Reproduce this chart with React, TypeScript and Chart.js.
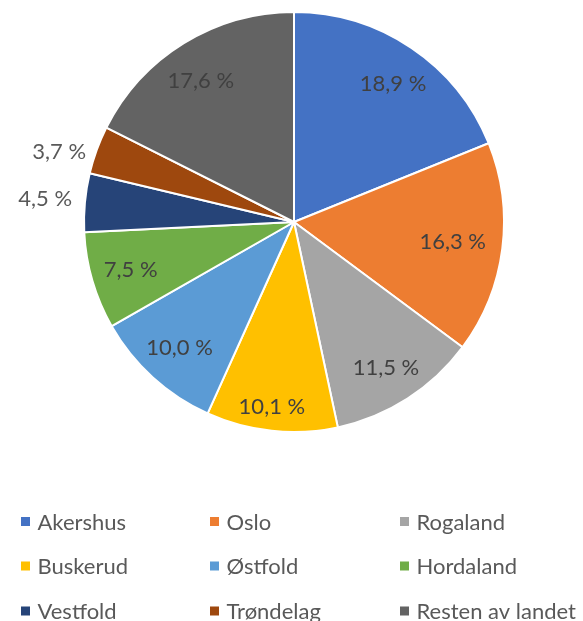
import React, { useEffect, useRef } from "react";
import { Chart, registerables } from "chart.js";

Chart.register(...registerables);

const categories = ["Akershus", "Oslo", "Rogaland", "Buskerud", "Østfold", "Hordaland", "Vestfold", "Trøndelag", "Resten av landet"];
const values = [18.9, 16.3, 11.5, 10.1, 10.0, 7.5, 4.5, 3.7, 17.6];
const colors = ["#4472C4", "#ED7D31", "#A5A5A5", "#FFC000", "#5B9BD5", "#70AD47", "#264478", "#9E480E", "#636363"];

const FONT = "Lato, 'Open Sans', sans-serif";

const fmt = (v: number) => v.toFixed(1).replace(".", ",") + " %";

// small label nudges (style only), emulating the best-fit placement
const labelNudge: Record<number, [number, number]> = {
  0: [4, 3],
  1: [-10, -2],
  2: [0, 3],
  3: [-4, 16],
  7: [0, 16],
  8: [-4, 4],
};

const labelPlugin = {
  id: "customLabels",
  afterDraw(chart: any) {
    const ctx = chart.ctx;
    const meta = chart.getDatasetMeta(0);
    ctx.save();
    ctx.textAlign = "center";
    ctx.textBaseline = "middle";
    ctx.font = `22px ${FONT}`;
    meta.data.forEach((arc: any, i: number) => {
      const mid = (arc.startAngle + arc.endAngle) / 2;
      const R = arc.outerRadius;
      const small = values[i] < 5;
      const r = small ? R * 1.19 : R * 0.81;
      const n = labelNudge[i] || [0, 0];
      const x = arc.x + Math.cos(mid) * r + n[0];
      const y = arc.y + Math.sin(mid) * r + n[1];
      ctx.fillStyle = small ? "#595959" : "#404040";
      ctx.fillText(fmt(values[i]), x, y);
    });
    // legend
    ctx.textAlign = "left";
    ctx.font = `22px ${FONT}`;
    const colX = [21, 210, 400];
    const rowY = [521.5, 566, 611];
    categories.forEach((c, i) => {
      const col = i % 3;
      const row = Math.floor(i / 3);
      ctx.fillStyle = colors[i];
      ctx.fillRect(colX[col], rowY[row] - 4.5, 9, 9);
      ctx.fillStyle = "#595959";
      ctx.fillText(c, colX[col] + 16.5, rowY[row] + 1);
    });
    ctx.restore();
  },
};

export default function App() {
  const ref = useRef<HTMLCanvasElement>(null);
  useEffect(() => {
    if (!ref.current) return;
    const chart = new Chart(ref.current, {
      type: "pie",
      data: {
        labels: categories,
        datasets: [
          {
            data: values,
            backgroundColor: colors,
            borderColor: "#ffffff",
            borderWidth: 2,
          },
        ],
      },
      options: {
        responsive: false,
        animation: false,
        devicePixelRatio: 1,
        layout: { padding: { top: 11, bottom: 188, left: 83, right: 78 } },
        plugins: { legend: { display: false }, tooltip: { enabled: false } },
      },
      plugins: [labelPlugin],
    });
    return () => chart.destroy();
  }, []);
  return (
    <div style={{ position: "absolute", left: 0, top: 0, width: 583, height: 621, background: "#fff" }}>
      <canvas ref={ref} width={583} height={621} style={{ display: "block" }} />
    </div>
  );
}
